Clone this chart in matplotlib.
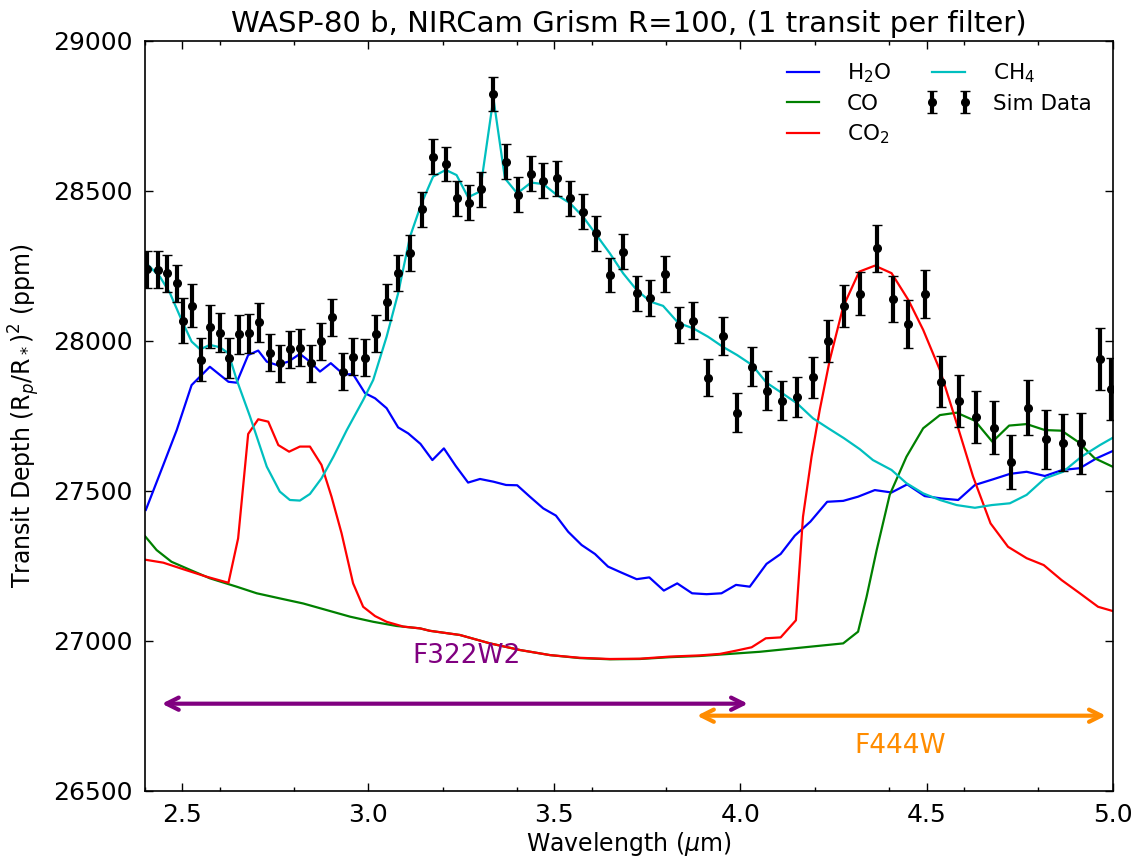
import matplotlib
matplotlib.use("Agg")
import matplotlib.pyplot as plt
from matplotlib.ticker import MultipleLocator

# ---------------- data ----------------
wl_data = [2.404, 2.435, 2.460, 2.485, 2.501, 2.525, 2.549, 2.574, 2.601, 2.626,
           2.653, 2.680, 2.707, 2.736, 2.762, 2.789, 2.816, 2.845, 2.874, 2.901,
           2.932, 2.959, 2.991, 3.020, 3.049, 3.080, 3.112, 3.143, 3.174, 3.208,
           3.239, 3.270, 3.302, 3.336, 3.370, 3.403, 3.437, 3.470, 3.506, 3.542,
           3.577, 3.613, 3.649, 3.685, 3.721, 3.758, 3.797, 3.835, 3.873, 3.912,
           3.952, 3.991, 4.031, 4.070, 4.112, 4.152, 4.194, 4.236, 4.278, 4.321,
           4.366, 4.409, 4.451, 4.495, 4.540, 4.587, 4.633, 4.680, 4.727, 4.774,
           4.821, 4.868, 4.916, 4.966, 4.997]
depth_data = [28238, 28236, 28225, 28191, 28067, 28116, 27936, 28047, 28027, 27943,
              28021, 28024, 28061, 27960, 27924, 27971, 27977, 27924, 27998, 28078,
              27897, 27947, 27943, 28023, 28130, 28225, 28291, 28438, 28613, 28589,
              28475, 28460, 28505, 28822, 28597, 28486, 28556, 28533, 28541, 28475,
              28430, 28358, 28219, 28297, 28158, 28141, 28222, 28052, 28067, 27877,
              28016, 27760, 27913, 27833, 27799, 27813, 27878, 28000, 28116, 28156,
              28308, 28139, 28055, 28155, 27863, 27799, 27745, 27710, 27595, 27777,
              27671, 27660, 27658, 27939, 27839]
err_data = [62, 62, 62, 62, 76, 72, 72, 72, 66, 66,
            66, 66, 66, 62, 62, 62, 62, 62, 62, 62,
            62, 62, 62, 62, 60, 60, 60, 58, 58, 58,
            58, 58, 58, 58, 58, 58, 58, 58, 58, 58,
            58, 58, 58, 58, 58, 60, 60, 60, 62, 63,
            64, 65, 65, 65, 65, 66, 68, 70, 70, 72,
            78, 78, 79, 80, 85, 86, 87, 88, 91, 93,
            99, 96, 102, 103, 104]

wl_h2o = [2.402, 2.449, 2.485, 2.525, 2.574, 2.624, 2.646, 2.677, 2.704, 2.727,
          2.754, 2.785, 2.816, 2.843, 2.870, 2.899, 2.933, 2.959, 2.991, 3.018,
          3.049, 3.080, 3.107, 3.140, 3.172, 3.203, 3.235, 3.268, 3.300, 3.336,
          3.370, 3.400, 3.434, 3.470, 3.504, 3.537, 3.573, 3.609, 3.644, 3.680,
          3.721, 3.755, 3.794, 3.830, 3.870, 3.909, 3.949, 3.988, 4.025, 4.070,
          4.108, 4.146, 4.188, 4.233, 4.276, 4.316, 4.361, 4.406, 4.448, 4.495,
          4.540, 4.585, 4.630, 4.679, 4.724, 4.769, 4.818, 4.865, 4.912, 4.957,
          5.000]
depth_h2o = [27436, 27586, 27702, 27852, 27913, 27863, 27860, 27952, 27967, 27930,
             27919, 27930, 27956, 27930, 27897, 27925, 27888, 27888, 27825, 27808,
             27775, 27711, 27691, 27656, 27602, 27641, 27582, 27527, 27539, 27530,
             27519, 27518, 27480, 27441, 27417, 27363, 27319, 27289, 27247, 27227,
             27205, 27211, 27167, 27191, 27158, 27155, 27158, 27186, 27180, 27256,
             27289, 27350, 27397, 27463, 27466, 27480, 27502, 27494, 27521, 27482,
             27474, 27469, 27519, 27538, 27556, 27563, 27549, 27569, 27575, 27608,
             27632]

wl_ch4 = [2.400, 2.440, 2.467, 2.498, 2.525, 2.548, 2.574, 2.601, 2.624, 2.646,
          2.682, 2.727, 2.762, 2.789, 2.816, 2.843, 2.874, 2.906, 2.942, 2.986,
          3.013, 3.049, 3.080, 3.112, 3.143, 3.174, 3.208, 3.237, 3.268, 3.300,
          3.336, 3.367, 3.400, 3.437, 3.470, 3.506, 3.542, 3.577, 3.613, 3.649,
          3.685, 3.721, 3.758, 3.792, 3.833, 3.873, 3.913, 3.952, 3.991, 4.031,
          4.070, 4.112, 4.152, 4.195, 4.236, 4.278, 4.321, 4.356, 4.406, 4.446,
          4.491, 4.536, 4.581, 4.630, 4.675, 4.724, 4.769, 4.818, 4.867, 4.916,
          4.966, 5.000]
depth_ch4 = [28262, 28213, 28158, 28069, 27997, 27971, 27986, 27978, 27958, 27870,
             27747, 27580, 27497, 27469, 27467, 27489, 27541, 27613, 27702, 27802,
             27869, 28013, 28158, 28347, 28458, 28547, 28569, 28552, 28478, 28497,
             28808, 28541, 28491, 28527, 28522, 28486, 28458, 28413, 28352, 28291,
             28224, 28169, 28130, 28116, 28059, 28041, 28013, 27980, 27952, 27919,
             27860, 27825, 27791, 27741, 27708, 27675, 27638, 27602, 27569, 27525,
             27491, 27469, 27452, 27443, 27452, 27458, 27486, 27541, 27563, 27613,
             27652, 27676]

wl_co2 = [2.400, 2.449, 2.503, 2.566, 2.624, 2.650, 2.677, 2.704, 2.731, 2.758,
          2.787, 2.816, 2.843, 2.874, 2.901, 2.928, 2.959, 2.986, 3.018, 3.049,
          3.094, 3.139, 3.165, 3.246, 3.327, 3.407, 3.488, 3.568, 3.649, 3.730,
          3.810, 3.891, 3.945, 3.989, 4.030, 4.068, 4.108, 4.149, 4.168, 4.191,
          4.213, 4.240, 4.276, 4.319, 4.361, 4.406, 4.451, 4.491, 4.536, 4.581,
          4.625, 4.672, 4.719, 4.769, 4.815, 4.863, 4.912, 4.961, 5.000]
depth_co2 = [27270, 27260, 27238, 27213, 27193, 27341, 27689, 27738, 27730, 27652,
             27630, 27647, 27647, 27586, 27480, 27358, 27191, 27113, 27082, 27063,
             27047, 27041, 27033, 27019, 26991, 26969, 26952, 26943, 26939, 26940,
             26947, 26951, 26956, 26967, 26978, 27008, 27011, 27068, 27413, 27613,
             27769, 27936, 28113, 28230, 28250, 28225, 28136, 28036, 27902, 27725,
             27547, 27391, 27313, 27275, 27252, 27202, 27158, 27113, 27099]

wl_co = [2.400, 2.431, 2.471, 2.521, 2.574, 2.646, 2.700, 2.762, 2.825, 2.888,
         2.951, 3.013, 3.076, 3.139, 3.165, 3.246, 3.327, 3.407, 3.488, 3.568,
         3.649, 3.730, 3.810, 3.891, 4.052, 4.276, 4.316, 4.339, 4.366, 4.401,
         4.446, 4.491, 4.536, 4.581, 4.630, 4.677, 4.722, 4.769, 4.818, 4.863,
         4.907, 4.952, 5.000]
depth_co = [27348, 27302, 27263, 27236, 27208, 27180, 27158, 27141, 27124, 27102,
            27080, 27063, 27049, 27041, 27033, 27019, 26991, 26969, 26952, 26942,
            26938, 26939, 26945, 26949, 26963, 26991, 27030, 27147, 27302, 27486,
            27613, 27708, 27752, 27760, 27733, 27663, 27717, 27722, 27702, 27700,
            27663, 27608, 27580]

labels_species = ["H$_2$O", "CO", "CO$_2$", "CH$_4$"]
filters = ["F322W2", "F444W"]
filter_ranges = [(2.445, 4.02), (3.883, 4.982)]
filter_arrow_y = [26790, 26750]
filter_text_pos = [(3.265, 26950), (4.43, 26650)]
filter_colors = ["purple", "darkorange"]

# ---------------- plot ----------------
fig = plt.figure(figsize=(11.47, 8.65), dpi=100)
ax = fig.add_axes([0.1265, 0.0859, 0.8435, 0.8671])

ax.plot(wl_h2o, depth_h2o, color="blue", lw=1.6, label=labels_species[0])
ax.plot(wl_co, depth_co, color="green", lw=1.6, label=labels_species[1])
ax.plot(wl_co2, depth_co2, color="red", lw=1.6, label=labels_species[2])
ax.plot(wl_ch4, depth_ch4, color="#00BFBF", lw=1.6, label=labels_species[3])
ax.errorbar(wl_data, depth_data, yerr=err_data, fmt="o", color="black",
            ms=5.5, elinewidth=3, capsize=3.8, capthick=1, ecolor="black",
            label="Sim Data", zorder=5)

for name, (x0, x1), yy, (tx, ty), col in zip(filters, filter_ranges, filter_arrow_y,
                                              filter_text_pos, filter_colors):
    ax.annotate("", xy=(x1, yy), xytext=(x0, yy),
                arrowprops=dict(arrowstyle="<->", color=col, lw=3,
                                mutation_scale=22, shrinkA=0, shrinkB=0))
    ax.text(tx, ty, name, color=col, fontsize=19, ha="center", va="center")

ax.set_xlim(2.4, 5.0)
ax.set_ylim(26500, 29000)
ax.xaxis.set_major_locator(MultipleLocator(0.5))
ax.xaxis.set_minor_locator(MultipleLocator(0.2))
ax.yaxis.set_major_locator(MultipleLocator(500))
ax.tick_params(which="both", direction="in", top=True, right=True, labelsize=18)
ax.tick_params(which="major", length=6, width=1, pad=9)
ax.tick_params(which="minor", length=3, width=1)
for s in ax.spines.values():
    s.set_linewidth(1.2)

ax.set_xlabel("Wavelength ($\\mu$m)", fontsize=17, labelpad=2)
ax.set_ylabel("Transit Depth (R$_p$/R$_*$)$^2$ (ppm)", fontsize=17, labelpad=8)
ax.set_title("WASP-80 b, NIRCam Grism R=100, (1 transit per filter)", fontsize=21, pad=6)

ax.legend(loc="upper right", ncol=2, frameon=False, fontsize=15.5, numpoints=2,
          handlelength=2.1, handletextpad=1.0, columnspacing=1.6,
          labelspacing=0.4, bbox_to_anchor=(0.998, 0.998))

fig.savefig("out.png", dpi=100)
